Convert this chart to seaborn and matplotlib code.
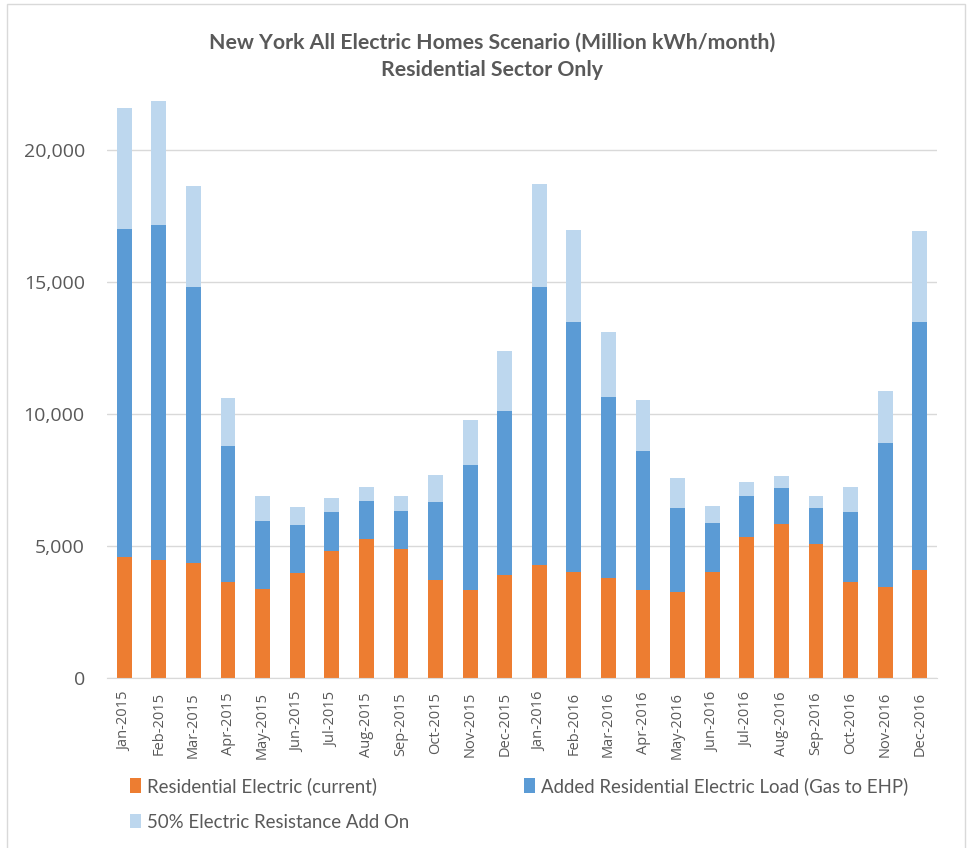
import numpy as np
import pandas as pd
import matplotlib
matplotlib.use("Agg")
import matplotlib.pyplot as plt
import seaborn as sns

# values (million kWh/month)
months = ["Jan-2015", "Feb-2015", "Mar-2015", "Apr-2015", "May-2015", "Jun-2015",
          "Jul-2015", "Aug-2015", "Sep-2015", "Oct-2015", "Nov-2015", "Dec-2015",
          "Jan-2016", "Feb-2016", "Mar-2016", "Apr-2016", "May-2016", "Jun-2016",
          "Jul-2016", "Aug-2016", "Sep-2016", "Oct-2016", "Nov-2016", "Dec-2016"]
current = [4600, 4460, 4370, 3630, 3380, 3980, 4820, 5270, 4880, 3720, 3340, 3900,
           4270, 4010, 3800, 3320, 3250, 4010, 5330, 5850, 5080, 3640, 3430, 4090]
added = [12410, 12700, 10420, 5140, 2570, 1810, 1460, 1450, 1460, 2930, 4740, 6220,
         10520, 9470, 6840, 5290, 3180, 1850, 1560, 1360, 1350, 2640, 5450, 9390]
resistance = [4570, 4680, 3830, 1850, 960, 680, 540, 520, 540, 1030, 1700, 2270,
              3920, 3470, 2470, 1930, 1160, 660, 530, 440, 480, 960, 1980, 3460]

labels = ["Residential Electric (current)",
          "Added Residential Electric Load (Gas to EHP)",
          "50% Electric Resistance Add On"]
colors = ["#ED7D31", "#5B9BD5", "#BDD7EE"]

df = pd.DataFrame({"month": months, "current": current,
                   "added": added, "resistance": resistance})
df["base2"] = df["current"]
df["base3"] = df["current"] + df["added"]

sns.set_style("white")
text_col = "#595959"
grid_col = "#D9D9D9"

fig = plt.figure(figsize=(9.7, 8.48), dpi=100)
ax = fig.add_axes([107 / 970, 170 / 848, 830 / 970, 581 / 848])

bar_kw = dict(width=0.43, saturation=1, linewidth=0, edgecolor="none", ax=ax, zorder=3)
sns.barplot(data=df, x="month", y="current", color=colors[0], label=labels[0], **bar_kw)
sns.barplot(data=df, x="month", y="added", bottom=df["base2"], color=colors[1],
            label=labels[1], **bar_kw)
sns.barplot(data=df, x="month", y="resistance", bottom=df["base3"], color=colors[2],
            label=labels[2], **bar_kw)
if ax.get_legend() is not None:
    ax.get_legend().remove()

ax.set_ylim(0, 22000)
ax.set_xlim(-0.5, len(months) - 0.5)
ax.set_yticks([0, 5000, 10000, 15000, 20000])
ax.set_yticklabels(["0", "5,000", "10,000", "15,000", "20,000"])
ax.set_xlabel("")
ax.set_ylabel("")
ax.yaxis.grid(True, color=grid_col, lw=1, zorder=0)
ax.set_axisbelow(True)
for s in ["top", "right", "left"]:
    ax.spines[s].set_visible(False)
ax.spines["bottom"].set_color(grid_col)
ax.spines["bottom"].set_zorder(4)

ax.tick_params(axis="y", length=0, pad=16, labelsize=14, labelcolor=text_col)
ax.tick_params(axis="x", which="major", length=0, pad=10, labelsize=10.5,
               labelcolor=text_col, rotation=90)
ax.set_xticks(np.arange(-0.5, len(months), 1), minor=True)
ax.tick_params(axis="x", which="minor", length=5, color=grid_col, width=1)
for t in ax.get_yticklabels() + ax.get_xticklabels():
    t.set_fontfamily("Open Sans")

fig.text(0.507, 0.950, "New York All Electric Homes Scenario (Million kWh/month)",
         ha="center", va="center", fontsize=15.3, fontweight="bold",
         color=text_col, family="Lato")
fig.text(0.507, 0.917, "Residential Sector Only", ha="center", va="center",
         fontsize=15.3, fontweight="bold", color=text_col, family="Lato")

# legend (two columns like the Excel original)
handles, hlabels = ax.get_legend_handles_labels()
h = dict(zip(hlabels, handles))
leg_kw = dict(frameon=False, prop={"family": "Lato", "size": 13.4},
              labelcolor=text_col, handlelength=0.6, handleheight=0.85,
              handletextpad=0.3, labelspacing=1.0, borderaxespad=0, borderpad=0)
leg1 = fig.legend([h[labels[0]], h[labels[2]]], [labels[0], labels[2]],
                  loc="upper left", bbox_to_anchor=(130 / 970, 1 - 777 / 848), **leg_kw)
leg2 = fig.legend([h[labels[1]]], [labels[1]],
                  loc="upper left", bbox_to_anchor=(524 / 970, 1 - 777 / 848), **leg_kw)

# chart area border
fig.add_artist(plt.Rectangle((7 / 970, -0.01), 958 / 970, 1.005, fill=False,
                             edgecolor=grid_col, lw=1, transform=fig.transFigure))

fig.savefig("out.png", dpi=100)
